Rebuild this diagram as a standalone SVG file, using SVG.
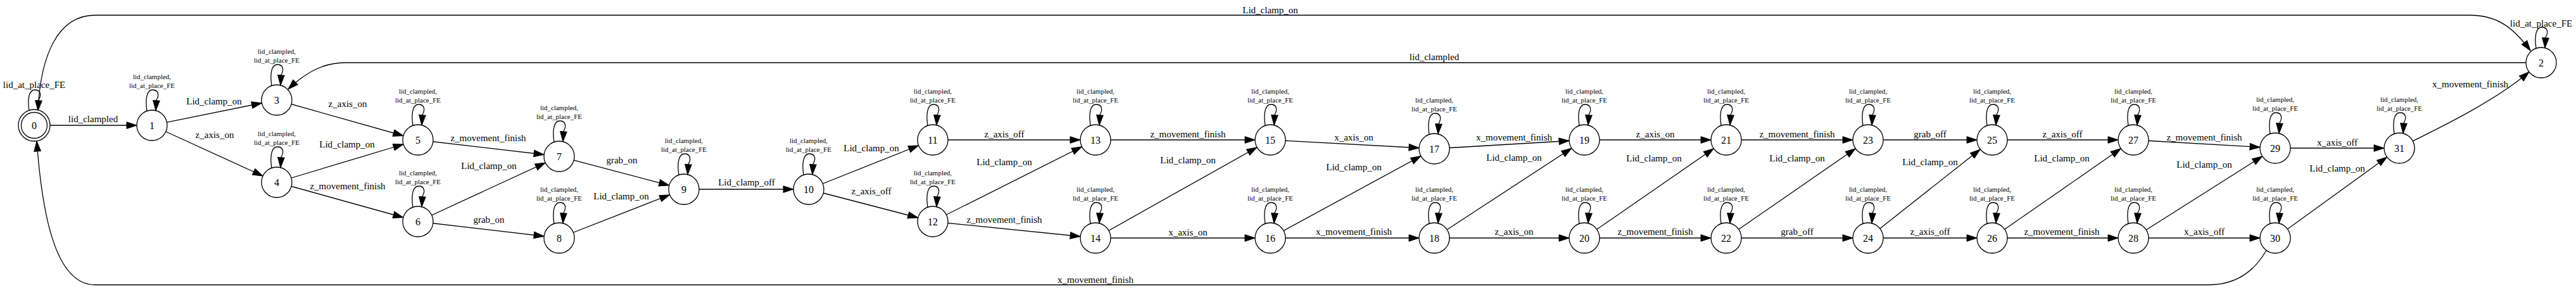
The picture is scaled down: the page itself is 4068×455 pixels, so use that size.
<svg xmlns="http://www.w3.org/2000/svg" width="4068" height="455" viewBox="0 0 4068 455">
<style>
.e{fill:none;stroke:#000;stroke-width:1.3}
.n{fill:#fff;stroke:#000;stroke-width:1.3}
text{font-family:"Liberation Serif","Times New Roman",serif;text-anchor:middle;fill:#000}
.l{font-size:15px}
.s{font-size:11px}
.nl{font-size:16px}
</style>
<defs>
<marker id="ah" markerUnits="userSpaceOnUse" orient="auto" overflow="visible" markerWidth="1" markerHeight="1" refX="0" refY="0"><path d="M-40,-5.3 L-24,0 L-40,5.3 Z" fill="#000" stroke="#000" stroke-width="1"/></marker>
<marker id="at" markerUnits="userSpaceOnUse" orient="auto" overflow="visible" markerWidth="1" markerHeight="1" refX="0" refY="0"><path d="M-16,-5.3 L0,0 L-16,5.3 Z" fill="#000" stroke="#000" stroke-width="1"/></marker>
</defs>
<rect width="4068" height="455" fill="#fff"/>
<g id="edges">
<!-- long curved edges -->
<path class="e" marker-end="url(#at)" d="M60,174 C64,90 90,24 150,24 L3900,24 C3945,24 3970,45 3996,80"/>
<text class="l" x="2006" y="21">Lid_clamp_on</text>
<path class="e" marker-end="url(#at)" d="M3989,99 L545,99 C510,99 482,115 455,141"/>
<text class="l" x="2265" y="95">lid_clampled</text>
<path class="e" marker-end="url(#at)" d="M3579,395.5 C3565,420 3540,450 3488,450 L150,450 C85,450 66,330 58,223"/>
<text class="l" x="1730" y="447">x_movement_finish</text>
<path class="e" marker-end="url(#at)" d="M3810,223 C3850,203 3940,160 3994,113.5"/>
<text class="l" x="3901" y="138">x_movement_finish</text>
<!-- straight edges -->
<path class="e" marker-end="url(#ah)" d="M54,198 L240,198"/><text class="l" x="147" y="193">lid_clampled</text>
<path class="e" marker-end="url(#ah)" d="M240,198 L437,158"/><text class="l" x="338" y="165">Lid_clamp_on</text>
<path class="e" marker-end="url(#ah)" d="M240,198 L437,288"/><text class="l" x="339" y="218">z_axis_on</text>
<path class="e" marker-end="url(#ah)" d="M437,158 L660,221"/><text class="l" x="549" y="169">z_axis_on</text>
<path class="e" marker-end="url(#ah)" d="M437,288 L660,221"/><text class="l" x="548" y="233">Lid_clamp_on</text>
<path class="e" marker-end="url(#ah)" d="M437,288 L660,350"/><text class="l" x="549" y="299">z_movement_finish</text>
<path class="e" marker-end="url(#ah)" d="M660,221 L883,247"/><text class="l" x="771" y="223">z_movement_finish</text>
<path class="e" marker-end="url(#ah)" d="M660,350 L883,247"/><text class="l" x="772" y="267">Lid_clamp_on</text>
<path class="e" marker-end="url(#ah)" d="M660,350 L883,376"/><text class="l" x="772" y="352">grab_on</text>
<path class="e" marker-end="url(#ah)" d="M883,247 L1080,299"/><text class="l" x="982" y="258">grab_on</text>
<path class="e" marker-end="url(#ah)" d="M883,376 L1080,299"/><text class="l" x="981" y="315">Lid_clamp_on</text>
<path class="e" marker-end="url(#ah)" d="M1080,299 L1277,299"/><text class="l" x="1179" y="293">Lid_clamp_off</text>
<path class="e" marker-end="url(#ah)" d="M1277,299 L1473,221"/><text class="l" x="1376" y="239">Lid_clamp_on</text>
<path class="e" marker-end="url(#ah)" d="M1277,299 L1473,350"/><text class="l" x="1376" y="307">z_axis_off</text>
<path class="e" marker-end="url(#ah)" d="M1473,221 L1730,221"/><text class="l" x="1586" y="217">z_axis_off</text>
<path class="e" marker-end="url(#ah)" d="M1473,350 L1730,221"/><text class="l" x="1586" y="261">Lid_clamp_on</text>
<path class="e" marker-end="url(#ah)" d="M1473,350 L1730,376"/><text class="l" x="1586" y="352">z_movement_finish</text>
<path class="e" marker-end="url(#ah)" d="M1730,221 L2006,221"/><text class="l" x="1876" y="217">z_movement_finish</text>
<path class="e" marker-end="url(#ah)" d="M1730,376 L2006,221"/><text class="l" x="1876" y="258">Lid_clamp_on</text>
<path class="e" marker-end="url(#ah)" d="M1730,376 L2006,376"/><text class="l" x="1876" y="372">x_axis_on</text>
<path class="e" marker-end="url(#ah)" d="M2006,221 L2265,235"/><text class="l" x="2138" y="222">x_axis_on</text>
<path class="e" marker-end="url(#ah)" d="M2006,376 L2265,235"/><text class="l" x="2138" y="269">Lid_clamp_on</text>
<path class="e" marker-end="url(#ah)" d="M2006,376 L2265,376"/><text class="l" x="2138" y="371">x_movement_finish</text>
<path class="e" marker-end="url(#ah)" d="M2265,235 L2502,221"/><text class="l" x="2391" y="222">x_movement_finish</text>
<path class="e" marker-end="url(#ah)" d="M2265,376 L2502,221"/><text class="l" x="2391" y="254">Lid_clamp_on</text>
<path class="e" marker-end="url(#ah)" d="M2265,376 L2502,376"/><text class="l" x="2391" y="371">z_axis_on</text>
<path class="e" marker-end="url(#ah)" d="M2502,221 L2726,221"/><text class="l" x="2614" y="217">z_axis_on</text>
<path class="e" marker-end="url(#ah)" d="M2502,376 L2726,221"/><text class="l" x="2612" y="255">Lid_clamp_on</text>
<path class="e" marker-end="url(#ah)" d="M2502,376 L2726,376"/><text class="l" x="2614" y="371">z_movement_finish</text>
<path class="e" marker-end="url(#ah)" d="M2726,221 L2950,221"/><text class="l" x="2838" y="217">z_movement_finish</text>
<path class="e" marker-end="url(#ah)" d="M2726,376 L2950,221"/><text class="l" x="2838" y="255">Lid_clamp_on</text>
<path class="e" marker-end="url(#ah)" d="M2726,376 L2950,376"/><text class="l" x="2838" y="371">grab_off</text>
<path class="e" marker-end="url(#ah)" d="M2950,221 L3146,221"/><text class="l" x="3048" y="217">grab_off</text>
<path class="e" marker-end="url(#ah)" d="M2950,376 L3146,221"/><text class="l" x="3048" y="261">Lid_clamp_on</text>
<path class="e" marker-end="url(#ah)" d="M2950,376 L3146,376"/><text class="l" x="3048" y="371">z_axis_off</text>
<path class="e" marker-end="url(#ah)" d="M3146,221 L3369,221"/><text class="l" x="3257" y="217">z_axis_off</text>
<path class="e" marker-end="url(#ah)" d="M3146,376 L3369,221"/><text class="l" x="3256" y="255">Lid_clamp_on</text>
<path class="e" marker-end="url(#ah)" d="M3146,376 L3369,376"/><text class="l" x="3256" y="371">z_movement_finish</text>
<path class="e" marker-end="url(#ah)" d="M3369,221 L3593,234"/><text class="l" x="3481" y="222">z_movement_finish</text>
<path class="e" marker-end="url(#ah)" d="M3369,376 L3593,234"/><text class="l" x="3481" y="265">Lid_clamp_on</text>
<path class="e" marker-end="url(#ah)" d="M3369,376 L3593,376"/><text class="l" x="3481" y="371">x_axis_off</text>
<path class="e" marker-end="url(#ah)" d="M3593,234 L3789,234"/><text class="l" x="3691" y="230">x_axis_off</text>
<path class="e" marker-end="url(#ah)" d="M3593,376 L3789,234"/><text class="l" x="3691" y="271">Lid_clamp_on</text>
<!-- self loops -->
<path class="e" marker-end="url(#at)" d="M46,174.3 c-3,-18.3 0,-32.3 9,-32.3 c9,0 11,8 6,16 l-1,16.9"/><text class="l" x="54" y="139">lid_at_place_FE</text>
<path class="e" marker-end="url(#at)" d="M4005,76.4 c-3,-19.4 0,-33.4 9,-33.4 c9,0 11,8 6,16 l-1,16.8"/><text class="l" x="4013" y="42">lid_at_place_FE</text>
<path class="e" marker-end="url(#at)" d="M232,175.4 c-3,-19.4 0,-33.4 9,-33.4 c9,0 11,8 6,16 l-1,16.8"/><text class="s" x="240" y="125"><tspan x="240">lid_clampled,</tspan><tspan x="240" dy="14">lid_at_place_FE</tspan></text>
<path class="e" marker-end="url(#at)" d="M429,135.4 c-3,-19.4 0,-33.4 9,-33.4 c9,0 11,8 6,16 l-1,16.8"/><text class="s" x="437" y="85"><tspan x="437">lid_clampled,</tspan><tspan x="437" dy="14">lid_at_place_FE</tspan></text>
<path class="e" marker-end="url(#at)" d="M429,265.4 c-3,-19.4 0,-33.4 9,-33.4 c9,0 11,8 6,16 l-1,16.8"/><text class="s" x="437" y="215"><tspan x="437">lid_clampled,</tspan><tspan x="437" dy="14">lid_at_place_FE</tspan></text>
<path class="e" marker-end="url(#at)" d="M652,198.4 c-3,-19.4 0,-33.4 9,-33.4 c9,0 11,8 6,16 l-1,16.8"/><text class="s" x="660" y="148"><tspan x="660">lid_clampled,</tspan><tspan x="660" dy="14">lid_at_place_FE</tspan></text>
<path class="e" marker-end="url(#at)" d="M652,327.4 c-3,-19.4 0,-33.4 9,-33.4 c9,0 11,8 6,16 l-1,16.8"/><text class="s" x="660" y="277"><tspan x="660">lid_clampled,</tspan><tspan x="660" dy="14">lid_at_place_FE</tspan></text>
<path class="e" marker-end="url(#at)" d="M875,224.4 c-3,-19.4 0,-33.4 9,-33.4 c9,0 11,8 6,16 l-1,16.8"/><text class="s" x="883" y="174"><tspan x="883">lid_clampled,</tspan><tspan x="883" dy="14">lid_at_place_FE</tspan></text>
<path class="e" marker-end="url(#at)" d="M875,353.4 c-3,-19.4 0,-33.4 9,-33.4 c9,0 11,8 6,16 l-1,16.8"/><text class="s" x="883" y="303"><tspan x="883">lid_clampled,</tspan><tspan x="883" dy="14">lid_at_place_FE</tspan></text>
<path class="e" marker-end="url(#at)" d="M1072,276.4 c-3,-19.4 0,-33.4 9,-33.4 c9,0 11,8 6,16 l-1,16.8"/><text class="s" x="1080" y="226"><tspan x="1080">lid_clampled,</tspan><tspan x="1080" dy="14">lid_at_place_FE</tspan></text>
<path class="e" marker-end="url(#at)" d="M1269,276.4 c-3,-19.4 0,-33.4 9,-33.4 c9,0 11,8 6,16 l-1,16.8"/><text class="s" x="1277" y="226"><tspan x="1277">lid_clampled,</tspan><tspan x="1277" dy="14">lid_at_place_FE</tspan></text>
<path class="e" marker-end="url(#at)" d="M1465,198.4 c-3,-19.4 0,-33.4 9,-33.4 c9,0 11,8 6,16 l-1,16.8"/><text class="s" x="1473" y="148"><tspan x="1473">lid_clampled,</tspan><tspan x="1473" dy="14">lid_at_place_FE</tspan></text>
<path class="e" marker-end="url(#at)" d="M1465,327.4 c-3,-19.4 0,-33.4 9,-33.4 c9,0 11,8 6,16 l-1,16.8"/><text class="s" x="1473" y="277"><tspan x="1473">lid_clampled,</tspan><tspan x="1473" dy="14">lid_at_place_FE</tspan></text>
<path class="e" marker-end="url(#at)" d="M1722,198.4 c-3,-19.4 0,-33.4 9,-33.4 c9,0 11,8 6,16 l-1,16.8"/><text class="s" x="1730" y="148"><tspan x="1730">lid_clampled,</tspan><tspan x="1730" dy="14">lid_at_place_FE</tspan></text>
<path class="e" marker-end="url(#at)" d="M1722,353.4 c-3,-19.4 0,-33.4 9,-33.4 c9,0 11,8 6,16 l-1,16.8"/><text class="s" x="1730" y="303"><tspan x="1730">lid_clampled,</tspan><tspan x="1730" dy="14">lid_at_place_FE</tspan></text>
<path class="e" marker-end="url(#at)" d="M1998,198.4 c-3,-19.4 0,-33.4 9,-33.4 c9,0 11,8 6,16 l-1,16.8"/><text class="s" x="2006" y="148"><tspan x="2006">lid_clampled,</tspan><tspan x="2006" dy="14">lid_at_place_FE</tspan></text>
<path class="e" marker-end="url(#at)" d="M1998,353.4 c-3,-19.4 0,-33.4 9,-33.4 c9,0 11,8 6,16 l-1,16.8"/><text class="s" x="2006" y="303"><tspan x="2006">lid_clampled,</tspan><tspan x="2006" dy="14">lid_at_place_FE</tspan></text>
<path class="e" marker-end="url(#at)" d="M2257,212.4 c-3,-19.4 0,-33.4 9,-33.4 c9,0 11,8 6,16 l-1,16.8"/><text class="s" x="2265" y="162"><tspan x="2265">lid_clampled,</tspan><tspan x="2265" dy="14">lid_at_place_FE</tspan></text>
<path class="e" marker-end="url(#at)" d="M2257,353.4 c-3,-19.4 0,-33.4 9,-33.4 c9,0 11,8 6,16 l-1,16.8"/><text class="s" x="2265" y="303"><tspan x="2265">lid_clampled,</tspan><tspan x="2265" dy="14">lid_at_place_FE</tspan></text>
<path class="e" marker-end="url(#at)" d="M2494,198.4 c-3,-19.4 0,-33.4 9,-33.4 c9,0 11,8 6,16 l-1,16.8"/><text class="s" x="2502" y="148"><tspan x="2502">lid_clampled,</tspan><tspan x="2502" dy="14">lid_at_place_FE</tspan></text>
<path class="e" marker-end="url(#at)" d="M2494,353.4 c-3,-19.4 0,-33.4 9,-33.4 c9,0 11,8 6,16 l-1,16.8"/><text class="s" x="2502" y="303"><tspan x="2502">lid_clampled,</tspan><tspan x="2502" dy="14">lid_at_place_FE</tspan></text>
<path class="e" marker-end="url(#at)" d="M2718,198.4 c-3,-19.4 0,-33.4 9,-33.4 c9,0 11,8 6,16 l-1,16.8"/><text class="s" x="2726" y="148"><tspan x="2726">lid_clampled,</tspan><tspan x="2726" dy="14">lid_at_place_FE</tspan></text>
<path class="e" marker-end="url(#at)" d="M2718,353.4 c-3,-19.4 0,-33.4 9,-33.4 c9,0 11,8 6,16 l-1,16.8"/><text class="s" x="2726" y="303"><tspan x="2726">lid_clampled,</tspan><tspan x="2726" dy="14">lid_at_place_FE</tspan></text>
<path class="e" marker-end="url(#at)" d="M2942,198.4 c-3,-19.4 0,-33.4 9,-33.4 c9,0 11,8 6,16 l-1,16.8"/><text class="s" x="2950" y="148"><tspan x="2950">lid_clampled,</tspan><tspan x="2950" dy="14">lid_at_place_FE</tspan></text>
<path class="e" marker-end="url(#at)" d="M2942,353.4 c-3,-19.4 0,-33.4 9,-33.4 c9,0 11,8 6,16 l-1,16.8"/><text class="s" x="2950" y="303"><tspan x="2950">lid_clampled,</tspan><tspan x="2950" dy="14">lid_at_place_FE</tspan></text>
<path class="e" marker-end="url(#at)" d="M3138,198.4 c-3,-19.4 0,-33.4 9,-33.4 c9,0 11,8 6,16 l-1,16.8"/><text class="s" x="3146" y="148"><tspan x="3146">lid_clampled,</tspan><tspan x="3146" dy="14">lid_at_place_FE</tspan></text>
<path class="e" marker-end="url(#at)" d="M3138,353.4 c-3,-19.4 0,-33.4 9,-33.4 c9,0 11,8 6,16 l-1,16.8"/><text class="s" x="3146" y="303"><tspan x="3146">lid_clampled,</tspan><tspan x="3146" dy="14">lid_at_place_FE</tspan></text>
<path class="e" marker-end="url(#at)" d="M3361,198.4 c-3,-19.4 0,-33.4 9,-33.4 c9,0 11,8 6,16 l-1,16.8"/><text class="s" x="3369" y="148"><tspan x="3369">lid_clampled,</tspan><tspan x="3369" dy="14">lid_at_place_FE</tspan></text>
<path class="e" marker-end="url(#at)" d="M3361,353.4 c-3,-19.4 0,-33.4 9,-33.4 c9,0 11,8 6,16 l-1,16.8"/><text class="s" x="3369" y="303"><tspan x="3369">lid_clampled,</tspan><tspan x="3369" dy="14">lid_at_place_FE</tspan></text>
<path class="e" marker-end="url(#at)" d="M3585,211.4 c-3,-19.4 0,-33.4 9,-33.4 c9,0 11,8 6,16 l-1,16.8"/><text class="s" x="3593" y="161"><tspan x="3593">lid_clampled,</tspan><tspan x="3593" dy="14">lid_at_place_FE</tspan></text>
<path class="e" marker-end="url(#at)" d="M3585,353.4 c-3,-19.4 0,-33.4 9,-33.4 c9,0 11,8 6,16 l-1,16.8"/><text class="s" x="3593" y="303"><tspan x="3593">lid_clampled,</tspan><tspan x="3593" dy="14">lid_at_place_FE</tspan></text>
<path class="e" marker-end="url(#at)" d="M3781,211.4 c-3,-19.4 0,-33.4 9,-33.4 c9,0 11,8 6,16 l-1,16.8"/><text class="s" x="3789" y="161"><tspan x="3789">lid_clampled,</tspan><tspan x="3789" dy="14">lid_at_place_FE</tspan></text>
</g>
<g id="node0"><circle class="n" cx="54" cy="198" r="25"/><circle class="n" cx="54" cy="198" r="20.5"/><text class="nl" x="54" y="203.5">0</text></g>
<g id="node1"><circle class="n" cx="240" cy="198" r="24"/><text class="nl" x="240" y="203.5">1</text></g>
<g id="node2"><circle class="n" cx="4013" cy="99" r="24"/><text class="nl" x="4013" y="104.5">2</text></g>
<g id="node3"><circle class="n" cx="437" cy="158" r="24"/><text class="nl" x="437" y="163.5">3</text></g>
<g id="node4"><circle class="n" cx="437" cy="288" r="24"/><text class="nl" x="437" y="293.5">4</text></g>
<g id="node5"><circle class="n" cx="660" cy="221" r="24"/><text class="nl" x="660" y="226.5">5</text></g>
<g id="node6"><circle class="n" cx="660" cy="350" r="24"/><text class="nl" x="660" y="355.5">6</text></g>
<g id="node7"><circle class="n" cx="883" cy="247" r="24"/><text class="nl" x="883" y="252.5">7</text></g>
<g id="node8"><circle class="n" cx="883" cy="376" r="24"/><text class="nl" x="883" y="381.5">8</text></g>
<g id="node9"><circle class="n" cx="1080" cy="299" r="24"/><text class="nl" x="1080" y="304.5">9</text></g>
<g id="node10"><circle class="n" cx="1277" cy="299" r="24"/><text class="nl" x="1277" y="304.5">10</text></g>
<g id="node11"><circle class="n" cx="1473" cy="221" r="24"/><text class="nl" x="1473" y="226.5">11</text></g>
<g id="node12"><circle class="n" cx="1473" cy="350" r="24"/><text class="nl" x="1473" y="355.5">12</text></g>
<g id="node13"><circle class="n" cx="1730" cy="221" r="24"/><text class="nl" x="1730" y="226.5">13</text></g>
<g id="node14"><circle class="n" cx="1730" cy="376" r="24"/><text class="nl" x="1730" y="381.5">14</text></g>
<g id="node15"><circle class="n" cx="2006" cy="221" r="24"/><text class="nl" x="2006" y="226.5">15</text></g>
<g id="node16"><circle class="n" cx="2006" cy="376" r="24"/><text class="nl" x="2006" y="381.5">16</text></g>
<g id="node17"><circle class="n" cx="2265" cy="235" r="24"/><text class="nl" x="2265" y="240.5">17</text></g>
<g id="node18"><circle class="n" cx="2265" cy="376" r="24"/><text class="nl" x="2265" y="381.5">18</text></g>
<g id="node19"><circle class="n" cx="2502" cy="221" r="24"/><text class="nl" x="2502" y="226.5">19</text></g>
<g id="node20"><circle class="n" cx="2502" cy="376" r="24"/><text class="nl" x="2502" y="381.5">20</text></g>
<g id="node21"><circle class="n" cx="2726" cy="221" r="24"/><text class="nl" x="2726" y="226.5">21</text></g>
<g id="node22"><circle class="n" cx="2726" cy="376" r="24"/><text class="nl" x="2726" y="381.5">22</text></g>
<g id="node23"><circle class="n" cx="2950" cy="221" r="24"/><text class="nl" x="2950" y="226.5">23</text></g>
<g id="node24"><circle class="n" cx="2950" cy="376" r="24"/><text class="nl" x="2950" y="381.5">24</text></g>
<g id="node25"><circle class="n" cx="3146" cy="221" r="24"/><text class="nl" x="3146" y="226.5">25</text></g>
<g id="node26"><circle class="n" cx="3146" cy="376" r="24"/><text class="nl" x="3146" y="381.5">26</text></g>
<g id="node27"><circle class="n" cx="3369" cy="221" r="24"/><text class="nl" x="3369" y="226.5">27</text></g>
<g id="node28"><circle class="n" cx="3369" cy="376" r="24"/><text class="nl" x="3369" y="381.5">28</text></g>
<g id="node29"><circle class="n" cx="3593" cy="234" r="24"/><text class="nl" x="3593" y="239.5">29</text></g>
<g id="node30"><circle class="n" cx="3593" cy="376" r="24"/><text class="nl" x="3593" y="381.5">30</text></g>
<g id="node31"><circle class="n" cx="3789" cy="234" r="24"/><text class="nl" x="3789" y="239.5">31</text></g>
</svg>
